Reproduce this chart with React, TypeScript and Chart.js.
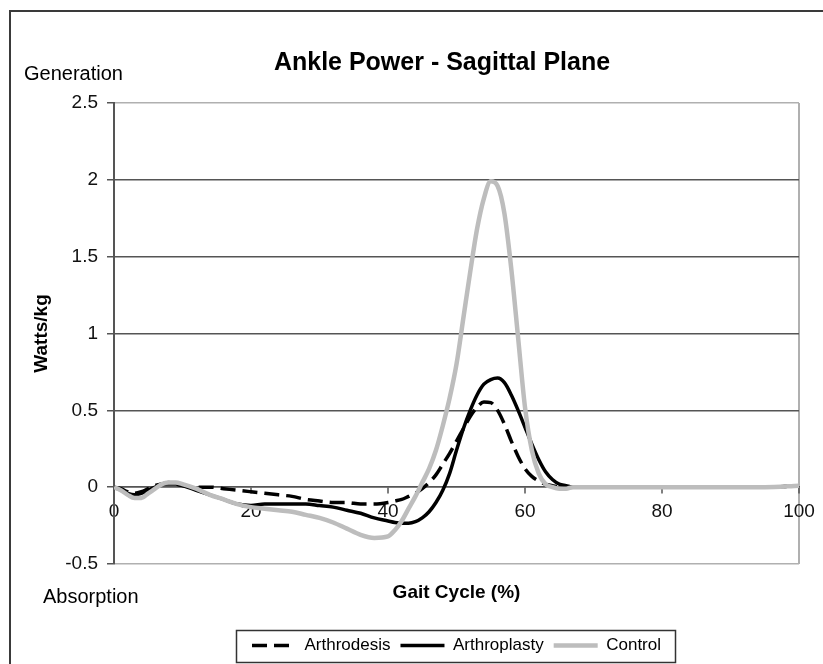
import React, { useEffect, useRef } from "react";
import { Chart, registerables } from "chart.js";

Chart.register(...registerables);

const FONT = "'Liberation Sans', Arial, Helvetica, sans-serif";

const chartTitle = "Ankle Power - Sagittal Plane";
const xAxisTitle = "Gait Cycle (%)";
const yAxisTitle = "Watts/kg";
const topNote = "Generation";
const bottomNote = "Absorption";
const seriesNames = ["Arthrodesis", "Arthroplasty", "Control"];
const xTicks = [0, 20, 40, 60, 80, 100];
const yTicks = [-0.5, 0, 0.5, 1, 1.5, 2, 2.5];

const gaitPct = [
  0, 1, 2, 3, 4, 5, 6, 7, 8, 9, 10,
  12, 14, 16, 18, 20, 22, 24, 26, 28, 30, 32, 34, 36, 38, 40,
  41, 42, 43, 44, 45, 46, 47, 48, 49, 50, 51, 52, 53, 54, 55, 56, 57, 58, 59, 60,
  61, 62, 63, 64, 65, 66, 67, 68,
  70, 75, 80, 85, 90, 95, 100,
];

const arthrodesis = [
  0.0, -0.01, -0.03, -0.04, -0.03, -0.01, 0.01, 0.02, 0.03, 0.02, 0.01,
  0.0, 0.0, -0.01, -0.02, -0.03, -0.04, -0.05, -0.06, -0.08, -0.09, -0.1, -0.1, -0.11, -0.11, -0.1,
  -0.09, -0.08, -0.06, -0.04, -0.01, 0.03, 0.08, 0.15, 0.22, 0.3, 0.38, 0.46, 0.52, 0.555, 0.55, 0.5, 0.41, 0.3, 0.2, 0.12,
  0.07, 0.04, 0.02, 0.01, 0.0, 0.0, 0.0, 0.0,
  0.0, 0.0, 0.0, 0.0, 0.0, 0.0, 0.01,
];

const arthroplasty = [
  0.0, -0.02, -0.04, -0.05, -0.04, -0.02, 0.0, 0.02, 0.02, 0.02, 0.01,
  -0.02, -0.05, -0.08, -0.11, -0.12, -0.11, -0.11, -0.11, -0.11, -0.12, -0.13, -0.15, -0.17, -0.2, -0.22,
  -0.23, -0.235, -0.235, -0.225, -0.2, -0.16, -0.1, -0.02, 0.09, 0.24, 0.38, 0.5, 0.6, 0.67, 0.7, 0.71, 0.68, 0.6, 0.5, 0.39,
  0.28, 0.18, 0.1, 0.05, 0.02, 0.01, 0.0, 0.0,
  0.0, 0.0, 0.0, 0.0, 0.0, 0.0, 0.01,
];

const control = [
  0.0, -0.02, -0.05, -0.07, -0.07, -0.04, -0.01, 0.02, 0.03, 0.03, 0.02,
  -0.01, -0.05, -0.08, -0.11, -0.13, -0.14, -0.15, -0.16, -0.18, -0.2, -0.23, -0.27, -0.31, -0.33, -0.32,
  -0.28, -0.22, -0.14, -0.06, 0.03, 0.12, 0.24, 0.4, 0.58, 0.8, 1.1, 1.4, 1.68, 1.88, 1.99, 1.96, 1.78, 1.42, 0.97, 0.52,
  0.24, 0.09, 0.02, 0.0, -0.01, -0.01, 0.0, 0.0,
  0.0, 0.0, 0.0, 0.0, 0.0, 0.0, 0.01,
];

const toPoints = (vals: number[]) => gaitPct.map((x, i) => ({ x, y: vals[i] }));

const decorPlugin = {
  id: "decor",
  afterDraw(chart: any) {
    const ctx = chart.ctx as CanvasRenderingContext2D;
    ctx.save();
    // outer frame
    ctx.strokeStyle = "#3a3a3a";
    ctx.lineWidth = 2;
    ctx.strokeRect(10, 11, 900, 900);
    // chart title
    ctx.fillStyle = "#000";
    ctx.textBaseline = "alphabetic";
    ctx.textAlign = "center";
    ctx.font = `bold 25px ${FONT}`;
    ctx.fillText(chartTitle, 442, 70);
    // notes
    ctx.textAlign = "left";
    ctx.font = `20px ${FONT}`;
    ctx.fillText(topNote, 24, 80);
    ctx.fillText(bottomNote, 43, 603);
    // legend frame
    const lg = chart.legend;
    if (lg && lg.legendHitBoxes && lg.legendHitBoxes.length) {
      const hb = lg.legendHitBoxes;
      const last = hb[hb.length - 1];
      const l = Math.round(hb[0].left - 16) + 0.5;
      const r = Math.round(last.left + last.width + 14) + 0.5;
      const t = Math.round(lg.top + 3) + 0.5;
      const b = Math.round(lg.bottom - 2) + 0.5;
      ctx.strokeStyle = "#333";
      ctx.lineWidth = 1.5;
      ctx.strokeRect(l, t, r - l, b - t);
    }
    ctx.restore();
  },
};

export default function App() {
  const canvasRef = useRef<HTMLCanvasElement | null>(null);

  useEffect(() => {
    const canvas = canvasRef.current;
    if (!canvas) return;
    const chart = new Chart(canvas, {
      type: "line",
      data: {
        datasets: [
          {
            label: seriesNames[0],
            data: toPoints(arthrodesis),
            borderColor: "#000000",
            borderWidth: 3.5,
            borderDash: [15, 7],
            order: 1,
            xAxisID: "x",
            yAxisID: "y",
          },
          {
            label: seriesNames[1],
            data: toPoints(arthroplasty),
            borderColor: "#000000",
            borderWidth: 3.5,
            order: 2,
            xAxisID: "x",
            yAxisID: "y",
          },
          {
            label: seriesNames[2],
            data: toPoints(control),
            borderColor: "#bdbdbd",
            borderWidth: 4.5,
            order: 0,
            xAxisID: "x",
            yAxisID: "y",
          },
        ],
      },
      options: {
        responsive: false,
        animation: false,
        events: [],
        parsing: true,
        elements: {
          point: { radius: 0 },
          line: { cubicInterpolationMode: "monotone", fill: false },
        },
        layout: { padding: { top: 103, right: 24, left: 0, bottom: 0 } },
        scales: {
          x: {
            type: "linear",
            position: { y: 0 } as any,
            min: 0,
            max: 100,
            afterBuildTicks: (s: any) => {
              s.ticks = xTicks.map((v) => ({ value: v }));
            },
            ticks: {
              font: { family: FONT, size: 19 },
              color: "#111",
              padding: 7,
              maxRotation: 0,
              autoSkip: false,
              callback: (v: any) => String(v),
            },
            grid: {
              drawOnChartArea: true,
              color: (c: any) => (c.tick && c.tick.value === 100 ? "#b0b0b0" : "rgba(0,0,0,0)"),
              lineWidth: 2,
              tickColor: "#555",
              tickLength: 6,
              tickWidth: 1.5,
            },
            border: { display: true, color: "#555", width: 1.5 },
          },
          x2: {
            type: "linear",
            position: "bottom",
            min: 0,
            max: 100,
            display: true,
            ticks: { display: false },
            grid: { display: false, drawTicks: false },
            border: { display: false },
            title: {
              display: true,
              text: xAxisTitle,
              color: "#000",
              font: { family: FONT, size: 19, weight: "bold" },
              padding: { top: 17.6, bottom: 22.6 },
            },
            afterFit: (s: any) => {
              s.height = 63;
            },
          },
          y: {
            type: "linear",
            min: -0.5,
            max: 2.5,
            afterBuildTicks: (s: any) => {
              s.ticks = yTicks.map((v) => ({ value: v }));
            },
            afterFit: (s: any) => {
              s.width = 114;
            },
            ticks: {
              font: { family: FONT, size: 19 },
              color: "#111",
              padding: 9,
              callback: (v: any) => String(v),
            },
            grid: {
              color: (c: any) =>
                c.tick && (c.tick.value === 2.5 || c.tick.value === -0.5) ? "#b0b0b0" : "#555",
              lineWidth: 1.5,
              tickColor: "#555",
              tickLength: 7,
              tickWidth: 1.5,
            },
            border: { display: true, color: "#555", width: 2 },
            title: {
              display: true,
              text: yAxisTitle,
              color: "#000",
              font: { family: FONT, size: 19, weight: "bold" },
              padding: { top: 30.6, bottom: 0 },
            },
          },
        },
        plugins: {
          tooltip: { enabled: false },
          title: { display: false },
          legend: {
            display: true,
            position: "bottom",
            fullSize: false,
            labels: {
              usePointStyle: true,
              pointStyle: "line",
              pointStyleWidth: 44,
              color: "#000",
              font: { family: FONT, size: 17 },
              padding: 10,
              sort: (a: any, b: any) => a.datasetIndex - b.datasetIndex,
              generateLabels: (ch: any) => {
                const base = (Chart.defaults.plugins.legend.labels as any).generateLabels(ch);
                return base.map((it: any) => {
                  const ds: any = ch.data.datasets[it.datasetIndex];
                  return {
                    ...it,
                    lineDash: ds.borderDash || [],
                    lineWidth: ds.borderWidth,
                    strokeStyle: ds.borderColor,
                  };
                });
              },
            },
          },
        },
      },
      plugins: [decorPlugin],
    } as any);
    return () => chart.destroy();
  }, []);

  return (
    <div style={{ position: "absolute", left: 0, top: 0, width: 823, height: 664, background: "#fff" }}>
      <canvas ref={canvasRef} width={823} height={664} style={{ display: "block" }} />
    </div>
  );
}
